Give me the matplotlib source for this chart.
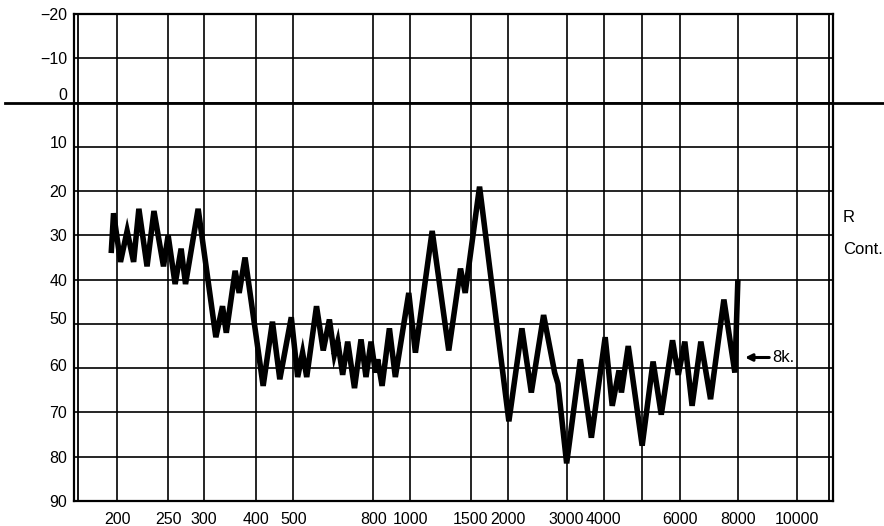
import numpy as np
import matplotlib
matplotlib.use("Agg")
import matplotlib.pyplot as plt
import matplotlib.transforms as mtransforms

plt.rcParams['font.family'] = ['Liberation Sans', 'DejaVu Sans']

# --- data -----------------------------------------------------------------
# Frequency grid of the chart paper and the (non-uniform) position of each line
grid_freqs = [200, 250, 300, 400, 500, 800, 1000, 1500, 2000, 3000, 4000, 5000, 6000, 8000, 10000]
grid_labels = ["200", "250", "300", "400", "500", "800", "1000", "1500", "2000", "3000", "4000", "", "6000", "8000", "10000"]
# chart-paper spacing (relative units) used for the frequency scale
scale_freqs = [100, 166, 200, 250, 300, 400, 500, 800, 1000, 1500, 2000, 3000, 4000, 5000, 6000, 8000, 10000, 11750, 20000]
scale_pos = [-41, 75, 118, 169, 205, 257, 294, 374, 411, 471, 508, 567, 604, 642, 680, 738, 797, 833, 952]

level_ticks = [-20, -10, 0, 10, 20, 30, 40, 50, 60, 70, 80, 90]
level_labels = ["\u221220", "\u221210", "0", "10", "20", "30", "40", "50", "60", "70", "80", "90"]

# Bekesy tracing (frequency Hz, hearing level dB)
trace_freq = [195, 197, 203, 209, 215, 220, 228, 235, 245, 250, 259, 267, 273, 291,
              320, 332, 339, 356, 364, 376, 417, 441, 461, 494, 513, 528, 541, 573,
              596, 618, 636, 649, 668, 688, 716, 744, 766, 789, 810, 821, 843, 881,
              913, 990, 1034, 1158, 1295, 1402, 1447, 1609, 2018, 2207, 2354, 2561,
              2763, 2826, 3000, 3337, 3635, 4035, 4205, 4376, 4438, 4619, 5010, 5279,
              5490, 5794, 5957, 6151, 6377, 6659, 6987, 7464, 7882, 8000]
trace_db = [34, 25, 36, 29, 36, 24, 37, 24.5, 37, 30, 41, 33, 41, 24,
            53, 46, 52, 38, 43, 35, 64, 49.5, 62.5, 48.5, 62, 56.5, 62, 46,
            56, 49, 57, 54, 61.5, 54, 64.5, 53.5, 62, 54, 61, 58, 64, 51,
            62, 43, 56.5, 29, 56, 37.5, 43, 19, 72, 51, 65.5, 48,
            61, 63.5, 81.5, 58, 75.7, 53, 68.5, 60.5, 65.5, 55, 77.5, 58.5,
            70.5, 53.7, 61.5, 54, 68.5, 54, 67, 44.5, 61, 40]

# --- figure ---------------------------------------------------------------
W, H = 884, 526
fig = plt.figure(figsize=(W / 100, H / 100), dpi=100)
ax = fig.add_axes([74 / W, 1 - 501 / H, (833 - 74) / W, (501 - 14) / H])

LOGF = np.log10(scale_freqs)
POS = np.array(scale_pos, dtype=float)


def fwd(f):
    f = np.clip(np.asarray(f, dtype=float), 1e-3, None)
    return np.interp(np.log10(f), LOGF, POS)


def inv(p):
    return 10 ** np.interp(np.asarray(p, dtype=float), POS, LOGF)


ax.set_xscale('function', functions=(fwd, inv))
ax.set_xlim(166, 11750)
ax.set_ylim(90, -20)

ax.set_xticks(grid_freqs, grid_labels)
ax.set_yticks(level_ticks, level_labels)
ax.minorticks_off()
ax.tick_params(length=0, labelsize=11.5, colors='black')
ax.tick_params(axis='x', pad=8)
ax.tick_params(axis='y', pad=5)
ax.grid(True, color='black', linewidth=1.2)

for s in ax.spines.values():
    s.set_linewidth(1.6)
    s.set_color('black')

# small vertical offsets of some printed level labels
offsets = {"0": 9, "10": 5, "50": 6, "60": 3}
for lab in ax.get_yticklabels():
    dy = offsets.get(lab.get_text(), 0)
    if dy:
        lab.set_transform(lab.get_transform() + mtransforms.ScaledTranslation(0, dy / 100, fig.dpi_scale_trans))

# double border lines
ax.plot([0.0055, 0.0055], [0, 1], transform=ax.transAxes, color='black', lw=1.3, clip_on=False)
ax.plot([0.9945, 0.9945], [0, 1], transform=ax.transAxes, color='black', lw=1.3, clip_on=False)

# heavy zero line that runs across the whole sheet
trans = mtransforms.blended_transform_factory(ax.transAxes, ax.transData)
ax.plot([-0.091, 1.07], [0, 0], transform=trans, color='black', lw=2.0, clip_on=False, zorder=3)

# the tracing
ax.plot(trace_freq, trace_db, color='black', lw=4.0, solid_joinstyle='miter',
        solid_capstyle='butt', zorder=4)

# side notes
fig.text(843 / W, 1 - 218 / H, "R", fontsize=12, va='center', ha='left')
fig.text(843 / W, 1 - 250 / H, "Cont.", fontsize=12, va='center', ha='left')
ax.annotate("8k.", xy=((745 - 74) / 759, (501 - 357.5) / 487), xycoords='axes fraction',
            xytext=((772 - 74) / 759, (501 - 357.5) / 487), textcoords='axes fraction',
            fontsize=12, va='center', ha='left',
            arrowprops=dict(arrowstyle='-|>', color='black', lw=2.2, mutation_scale=10,
                            shrinkA=0, shrinkB=0))

fig.savefig("out.png", dpi=100)
